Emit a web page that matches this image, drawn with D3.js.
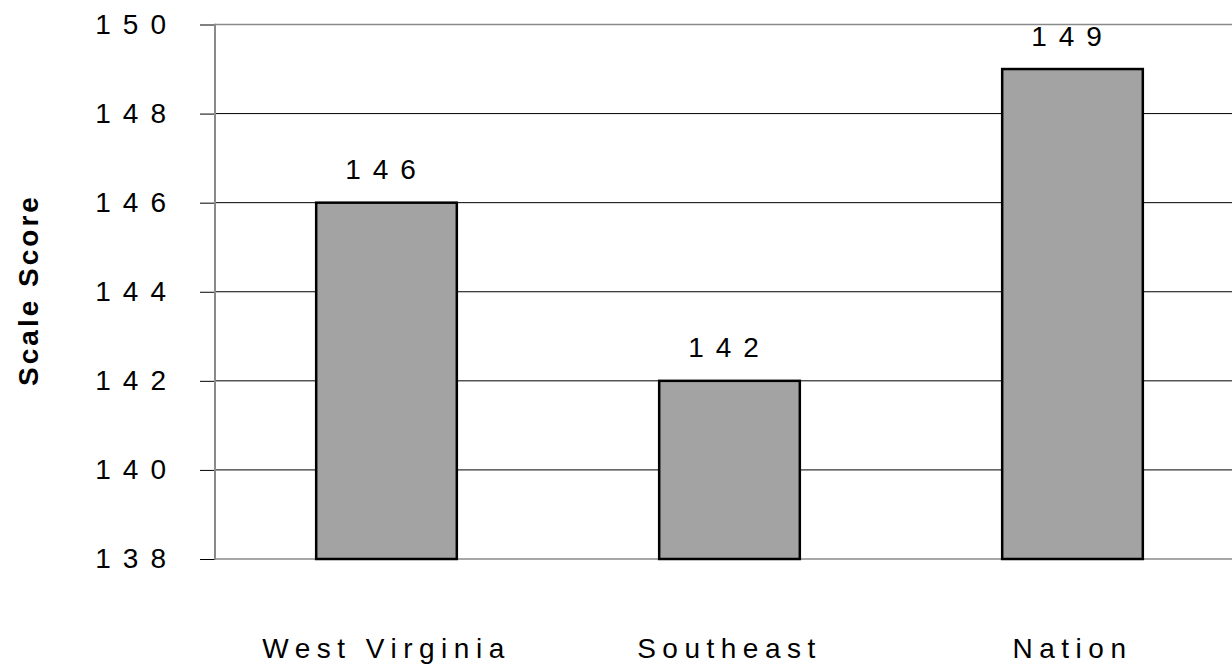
<!DOCTYPE html>
<html>
<head>
<meta charset="utf-8">
<script src="https://cdn.jsdelivr.net/npm/d3@7"></script>
<style>
  html, body { margin: 0; padding: 0; background: #fff; }
  svg { display: block; }
  text { font-family: Arial, "Liberation Sans", sans-serif; fill: #000; }
</style>
</head>
<body>
<svg id="chart" width="1232" height="668"></svg>
<script>
const categories = ["West Virginia", "Southeast", "Nation"];
const scores = [146, 142, 149];
const yTicks = [138, 140, 142, 144, 146, 148, 150];
const yTitle = "Scale Score";

const svg = d3.select("#chart");
const plotLeft = 215, plotRight = 1244, plotTop = 24.5, plotBottom = 559;

const x = d3.scaleBand().domain(categories).range([plotLeft, plotRight])
  .paddingInner(0.59).paddingOuter(0.295);
const y = d3.scaleLinear().domain([138, 150]).range([plotBottom, plotTop]);

// gridlines
svg.append("g").selectAll("line").data(yTicks).join("line")
  .attr("x1", plotLeft).attr("x2", 1232)
  .attr("y1", d => y(d)).attr("y2", d => y(d))
  .attr("stroke", d => (d === 150 || d === 138) ? "#8a8a8a" : "#000")
  .attr("stroke-width", d => (d === 150 || d === 138) ? 1.6 : 1);

// y axis
const yAxis = d3.axisLeft(y).tickValues(yTicks).tickSize(15).tickPadding(22)
  .tickFormat(d3.format("d"));
const ga = svg.append("g").attr("transform", `translate(${plotLeft},0)`).call(yAxis);
ga.select(".domain").remove();
ga.selectAll(".tick line").attr("stroke", "#000").attr("stroke-width", 1);
ga.selectAll(".tick text")
  .attr("font-size", 28).attr("font-family", "Arial, 'Liberation Sans', sans-serif")
  .style("letter-spacing", "12px")
  .attr("fill", "#000")
  .attr("dy", "8.5");
svg.append("line").attr("x1", plotLeft).attr("x2", plotLeft)
  .attr("y1", plotTop - 0.8).attr("y2", plotBottom + 0.8)
  .attr("stroke", "#8a8a8a").attr("stroke-width", 2);

// bars
svg.append("g").selectAll("rect").data(categories).join("rect")
  .attr("x", d => x(d))
  .attr("y", (d, i) => y(scores[i]))
  .attr("width", x.bandwidth())
  .attr("height", (d, i) => y(138) - y(scores[i]))
  .attr("fill", "#a3a3a3")
  .attr("stroke", "#000").attr("stroke-width", 2.5);

// value labels
svg.append("g").selectAll("text").data(categories).join("text")
  .attr("x", d => x(d) + x.bandwidth() / 2)
  .attr("y", (d, i) => y(scores[i]) - 23.5)
  .attr("text-anchor", "middle")
  .attr("font-size", 28)
  .style("letter-spacing", "12px")
  .text((d, i) => scores[i]);

// category labels
svg.append("g").selectAll("text").data(categories).join("text")
  .attr("x", d => x(d) + x.bandwidth() / 2)
  .attr("y", 658)
  .attr("text-anchor", "middle")
  .attr("font-size", 28)
  .style("letter-spacing", "6.5px")
  .text(d => d);

// y title
svg.append("text")
  .attr("transform", "translate(38,290) rotate(-90)")
  .attr("text-anchor", "middle")
  .attr("font-size", 28)
  .attr("font-weight", "bold")
  .style("letter-spacing", "3px")
  .text(yTitle);
</script>
</body>
</html>
